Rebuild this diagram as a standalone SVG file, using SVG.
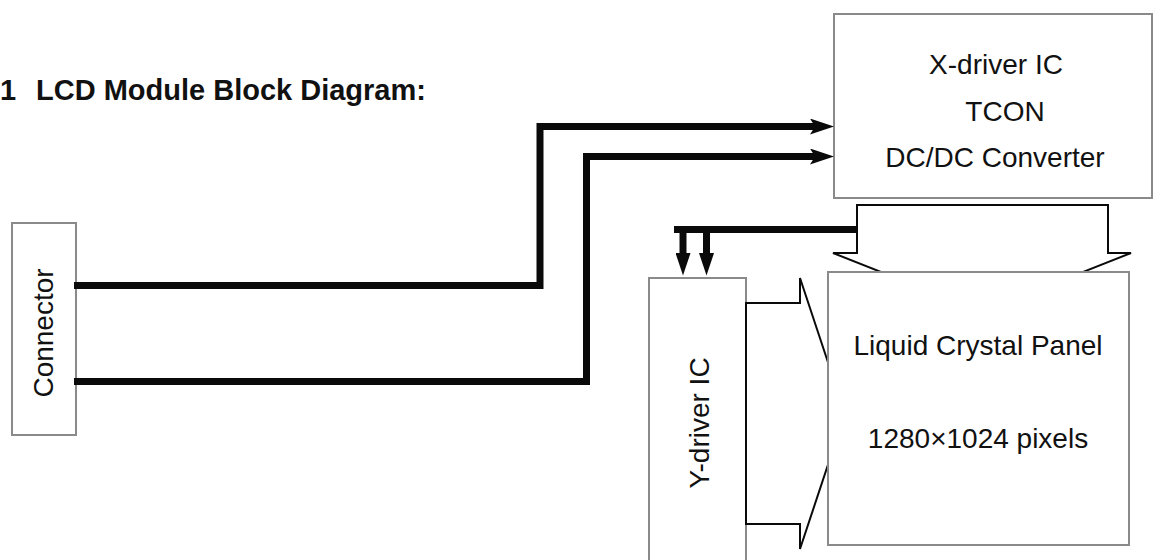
<svg xmlns="http://www.w3.org/2000/svg" width="1154" height="560" viewBox="0 0 1154 560">
<style>
.box{fill:#fff;stroke:#8a8a8a;stroke-width:2}
.lbl{font-family:"Liberation Sans",Arial,sans-serif;font-size:28px;fill:#111}
.title{font-family:"Liberation Sans",Arial,sans-serif;font-size:29px;font-weight:bold;fill:#111}
.bus{fill:none;stroke:#0a0a0a;stroke-width:7;stroke-linejoin:miter}
.blk{fill:#fff;stroke:#0a0a0a;stroke-width:2;stroke-linejoin:miter}
</style>
<defs>
<marker id="ah" viewBox="0 0 24 16" refX="6" refY="8" markerWidth="24" markerHeight="16" markerUnits="userSpaceOnUse" orient="auto">
<path d="M0,0 L24,8 L0,16 L5,8 Z" fill="#0a0a0a"/>
</marker>
<marker id="dh" viewBox="0 0 24 16" refX="1" refY="8" markerWidth="24" markerHeight="15" markerUnits="userSpaceOnUse" orient="auto">
<path d="M0,0 L24,8 L0,16 Z" fill="#0a0a0a"/>
</marker>
</defs>
<rect width="1154" height="560" fill="#fff"/>
<g id="title">
<text class="title" x="0" y="100">1</text>
<text class="title" x="36" y="100">LCD Module Block Diagram:</text>
</g>
<g id="connector">
<rect class="box" x="12" y="223" width="64" height="212"/>
<text class="lbl" transform="translate(53,333) rotate(-90)" text-anchor="middle">Connector</text>
</g>
<g id="xdriver">
<rect class="box" x="834" y="14" width="318" height="184"/>
<text class="lbl" x="996" y="74" text-anchor="middle">X-driver IC</text>
<text class="lbl" x="1005" y="121" text-anchor="middle">TCON</text>
<text class="lbl" x="995" y="167" text-anchor="middle">DC/DC Converter</text>
</g>
<g id="ydriver">
<rect class="box" x="649" y="278" width="97" height="300"/>
<text class="lbl" transform="translate(709,423) rotate(-90)" text-anchor="middle">Y-driver IC</text>
</g>
<g id="connectors">
<polyline class="bus" points="74,285.5 540,285.5 540,126.5 816,126.5" marker-end="url(#ah)"/>
<polyline class="bus" points="74,381.5 586.5,381.5 586.5,156.5 816,156.5" marker-end="url(#ah)"/>
<line class="bus" x1="674" y1="229.5" x2="858" y2="229.5"/>
<line class="bus" x1="683" y1="226" x2="683" y2="254" marker-end="url(#dh)"/>
<line class="bus" x1="706.5" y1="226" x2="706.5" y2="254" marker-end="url(#dh)"/>
<path class="blk" d="M857,205 H1108 V253 H1131 L982,312 L833,253 H857 Z"/>
<path class="blk" d="M746,303 H800 V278 L845,413.5 L800,549 V524 H746 Z"/>
</g>
<g id="panel">
<rect class="box" x="828" y="272" width="301" height="273"/>
<text class="lbl" x="978" y="355" text-anchor="middle">Liquid Crystal Panel</text>
<text class="lbl" x="978" y="448" text-anchor="middle">1280×1024 pixels</text>
</g>
</svg>
